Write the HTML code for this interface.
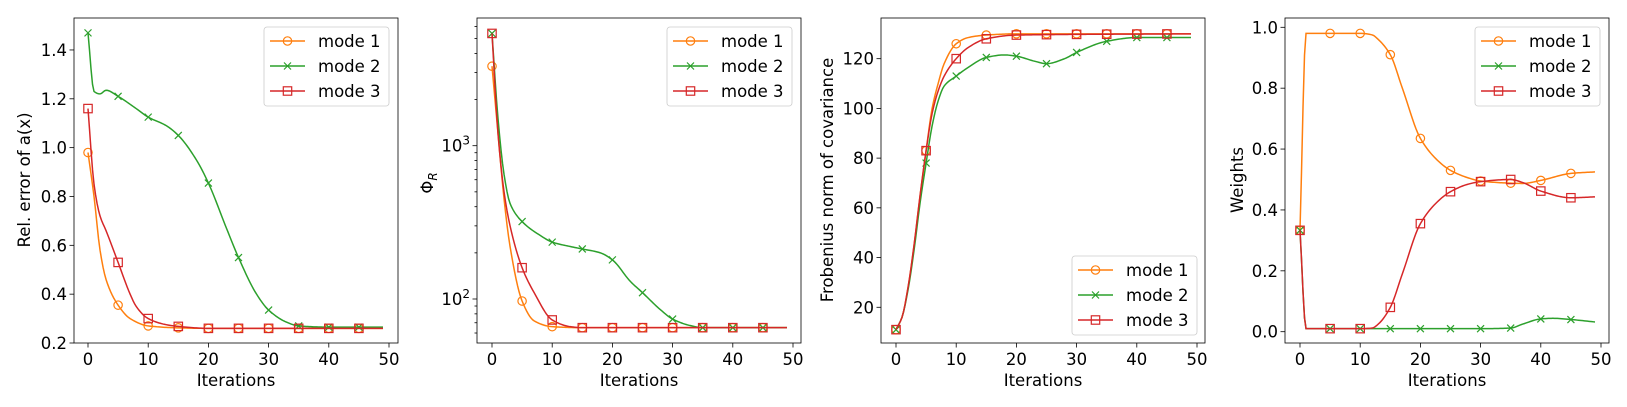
<!DOCTYPE html>
<html><head><meta charset="utf-8"><style>
html,body{margin:0;padding:0;background:#fff}
svg{display:block}
text{font-family:"DejaVu Sans","Liberation Sans",sans-serif;fill:#000}
</style></head><body>
<svg id="fig" width="1627" height="407" viewBox="0 0 1627 407" xmlns="http://www.w3.org/2000/svg"></svg>
<script>
// ---- data ----
const ITER = [0,5,10,15,20,25,30,35,40,45];
const p1m1x=[0,1,2,3,5,7,10,15,20,49], p1m1y=[0.98,0.8,0.58,0.46,0.355,0.3,0.27,0.262,0.26,0.26];
const p1m2x=[0,1,2,3,5,8,10,13,15,18,20,23,25,28,30,33,35,40,49], p1m2y=[1.47,1.23,1.22,1.235,1.21,1.16,1.125,1.09,1.05,0.95,0.855,0.67,0.55,0.4,0.335,0.285,0.27,0.265,0.265];
const p1m3x=[0,1,2,3,5,7,8,10,13,15,20,49], p1m3y=[1.16,0.85,0.72,0.66,0.53,0.4,0.35,0.30,0.275,0.268,0.26,0.26];
const p2m1x=[0,1,2,3,5,7,10,15,49], p2m1y=[3300,1200,450,220,97,72,66,65,65];
const p2m2x=[0,1,2,3,5,8,10,13,15,18,20,23,25,28,30,33,35,49], p2m2y=[5400,1500,650,420,320,260,235,220,212,200,180,130,110,85,74,67,65,65];
const p2m3x=[0,1,2,3,5,7,10,13,15,49], p2m3y=[5400,1200,500,300,160,110,73,66,65,65];
const p3m1x=[0,1,2,3,4,5,6,7,8,10,12,15,20,49], p3m1y=[11,16,28,45,65,83,100,110,118,126,128.5,129.5,130,130];
const p3m2x=[0,1,2,3,4,5,6,7,8,10,12,15,18,20,23,25,28,30,35,40,49], p3m2y=[11,16,27,43,62,78,93,103,109,113,116.5,120.5,121.5,121,119,118,120,122.5,127,128.5,128.5];
const p3m3x=[0,1,2,3,4,5,6,7,8,10,12,15,20,49], p3m3y=[11,16,28,45,65,83,98,107,113,120,124.5,128,129.5,130];
const p4m1x=[0,1,5,10,12,13,15,17,20,23,25,28,30,35,37,40,45,49], p4m1y=[0.333,0.98,0.98,0.98,0.975,0.96,0.91,0.8,0.635,0.56,0.53,0.505,0.495,0.488,0.487,0.497,0.52,0.525];
const p4m2x=[0,1,5,10,15,20,25,30,35,37,40,42,45,49], p4m2y=[0.333,0.01,0.01,0.01,0.01,0.01,0.01,0.01,0.012,0.025,0.042,0.044,0.04,0.032];
const p4m3x=[0,1,5,10,12,13,15,17,20,23,25,28,30,35,37,40,45,49], p4m3y=[0.333,0.01,0.01,0.01,0.012,0.025,0.08,0.19,0.355,0.43,0.46,0.485,0.493,0.5,0.49,0.462,0.44,0.443];
const xTicks=[0,10,20,30,40,50];
const p1Ticks=[0.2,0.4,0.6,0.8,1.0,1.2,1.4];
const p3Ticks=[20,40,60,80,100,120];
const p4Ticks=[0.0,0.2,0.4,0.6,0.8,1.0];
const seriesNames=['mode 1','mode 2','mode 3'];
const COLORS=['#ff7f0e','#2ca02c','#d62728'];
const FS=16.5;

const NS='http://www.w3.org/2000/svg';
const svg=document.getElementById('fig');
function el(tag,attrs,parent){const e=document.createElementNS(NS,tag);for(const k in attrs)e.setAttribute(k,attrs[k]);(parent||svg).appendChild(e);return e;}

function mono(xs,ys,x){
  const n=xs.length;
  if(x<=xs[0])return ys[0]; if(x>=xs[n-1])return ys[n-1];
  const d=[],m=[];
  for(let i=0;i<n-1;i++)d.push((ys[i+1]-ys[i])/(xs[i+1]-xs[i]));
  m[0]=d[0];m[n-1]=d[n-2];
  for(let i=1;i<n-1;i++){ if(d[i-1]*d[i]<=0)m[i]=0; else { const h0=xs[i]-xs[i-1],h1=xs[i+1]-xs[i]; const w1=2*h1+h0,w2=h1+2*h0; m[i]=(w1+w2)/(w1/d[i-1]+w2/d[i]); } }
  let i=0; while(x>xs[i+1])i++;
  const h=xs[i+1]-xs[i],t=(x-xs[i])/h,t2=t*t,t3=t2*t;
  return (2*t3-3*t2+1)*ys[i]+(t3-2*t2+t)*h*m[i]+(-2*t3+3*t2)*ys[i+1]+(t3-t2)*h*m[i+1];
}

function marker(g,type,cx,cy,c){
  if(type===0){const e=el('circle',{cx,cy,r:4.2,fill:'none',stroke:c,'stroke-width':1.2},g);}
  else if(type===1){const e=el('path',{d:`M${cx-3.5},${cy-3.5}L${cx+3.5},${cy+3.5}M${cx-3.5},${cy+3.5}L${cx+3.5},${cy-3.5}`,stroke:c,'stroke-width':1.2,fill:'none'},g);}
  else {const e=el('rect',{x:cx-4.2,y:cy-4.2,width:8.4,height:8.4,fill:'none',stroke:c,'stroke-width':1.2},g);}
}

function panel(o){
  const L=o.left,T=18,W=324,H=325,B=T+H;
  const g=el('g',{});
  
  
  const sx=v=>o.x0+v*6.02;
  const sy=o.sy;
  o.yt.forEach(t=>{
    const y=sy(t.v);
    el('line',{x1:L-(t.minor?2.5:4.5),x2:L,y1:y,y2:y,stroke:'#000','stroke-width':0.8},g);
    if(t.label){const tx=el('text',{x:L-7,y:y+6,'text-anchor':'end','font-size':FS},g);tx.innerHTML=t.label;}
  });
  xTicks.forEach(v=>{
    const x=sx(v);
    el('line',{x1:x,x2:x,y1:B,y2:B+4.5,stroke:'#000','stroke-width':0.8},g);
    const tx=el('text',{x:x,y:B+22,'text-anchor':'middle','font-size':FS},g);tx.textContent=v;
    
  });
  const xl=el('text',{x:L+W/2,y:386,'text-anchor':'middle','font-size':FS},g);xl.textContent='Iterations';
  
  const yl=el('text',{x:0,y:0,'text-anchor':'middle','font-size':FS,transform:`translate(${o.ylx},${o.yly}) rotate(-90)`},g);yl.innerHTML=o.ylabel;
  
  const cp='cp'+L;
  const clip=el('clipPath',{id:cp},g);el('rect',{x:L,y:T,width:W,height:H},clip);
  const sg=el('g',{'clip-path':`url(#${cp})`},g);
  o.series.forEach((s,k)=>{
    const tr=o.log?(v=>Math.log10(v)):(v=>v), inv=o.log?(v=>Math.pow(10,v)):(v=>v);
    const ty=s[1].map(tr);
    let d='';
    for(let x=0;x<=49.0001;x+=0.25){d+=(d?'L':'M')+sx(x).toFixed(2)+','+sy(inv(mono(s[0],ty,x))).toFixed(2);}
    const p=el('path',{d,fill:'none',stroke:COLORS[k],'stroke-width':1.5},sg);
    
    
    ITER.forEach(x=>marker(sg,k,sx(x),sy(inv(mono(s[0],ty,x))),COLORS[k]));
  });
  el('rect',{x:L,y:T,width:W,height:H,fill:'none',stroke:'#000','stroke-width':0.8},g);
  const lx=o.legX,ly=o.legY;
  const lg=el('g',{},g);
  
  el('rect',{x:lx,y:ly,width:125,height:79,rx:3,fill:'#fff','fill-opacity':0.8,stroke:'#ccc','stroke-width':0.8},lg);
  seriesNames.forEach((n,k)=>{
    const y=ly+14+k*25;
    el('line',{x1:lx+6,x2:lx+41,y1:y,y2:y,stroke:COLORS[k],'stroke-width':1.5},lg);
    marker(lg,k,lx+23.5,y,COLORS[k]);
    const t=el('text',{x:lx+54,y:y+6,'font-size':FS},lg);t.textContent=n;
    
  });
}

panel({name:'rel-error-panel',left:74,x0:88,sy:v=>343-(v-0.2)*244.2,
  yt:p1Ticks.map(v=>({v,label:v.toFixed(1)})),ylabel:'Rel. error of a(x)',ylx:30,yly:180,
  series:[[p1m1x,p1m1y],[p1m2x,p1m2y],[p1m3x,p1m3y]],legX:264,legY:27});
const yt2=[];
[60,70,80,90].forEach(v=>yt2.push({v,minor:true}));
yt2.push({v:100,label:'10<tspan dy="-7" font-size="12">2</tspan>'});
[200,300,400,500,600,700,800,900].forEach(v=>yt2.push({v,minor:true}));
yt2.push({v:1000,label:'10<tspan dy="-7" font-size="12">3</tspan>'});
[2000,3000,4000,5000,6000].forEach(v=>yt2.push({v,minor:true}));
panel({name:'phi-r-panel',left:477,x0:492,log:true,sy:v=>299-(Math.log10(v)-2)*153.3,
  yt:yt2,ylabel:'Φ<tspan font-style="italic" font-size="12" dy="4">R</tspan>',ylx:433,yly:183,
  series:[[p2m1x,p2m1y],[p2m2x,p2m2y],[p2m3x,p2m3y]],legX:667,legY:27});
panel({name:'frobenius-panel',left:881,x0:896,sy:v=>357-v*2.486,
  yt:p3Ticks.map(v=>({v,label:String(v)})),ylabel:'Frobenius norm of covariance',ylx:833,yly:180,
  series:[[p3m1x,p3m1y],[p3m2x,p3m2y],[p3m3x,p3m3y]],legX:1072,legY:256});
panel({name:'weights-panel',left:1285,x0:1300,sy:v=>331.7-v*304.4,
  yt:p4Ticks.map(v=>({v,label:v.toFixed(1)})),ylabel:'Weights',ylx:1243,yly:180,
  series:[[p4m1x,p4m1y],[p4m2x,p4m2y],[p4m3x,p4m3y]],legX:1475,legY:27});
</script>
</body></html>
